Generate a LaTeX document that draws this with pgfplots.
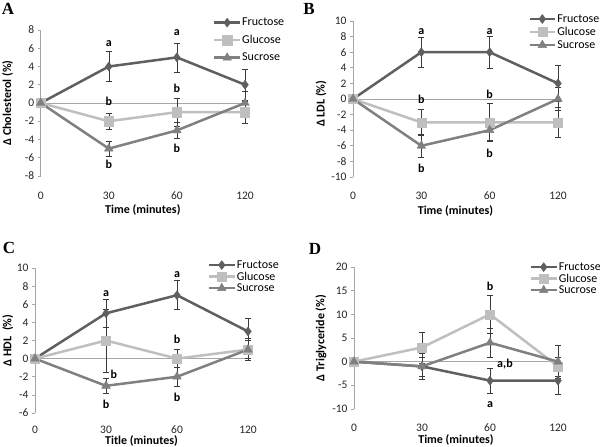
\documentclass[border=0pt]{standalone}
\usepackage{fontspec}
\setmainfont{Carlito}
\newfontfamily\serifb{Liberation Serif}
\usepackage{pgfplots}
\pgfplotsset{compat=1.18}
\definecolor{cF}{HTML}{5F5F5F}
\definecolor{cG}{HTML}{BFBFBF}
\definecolor{cS}{HTML}{808080}
\definecolor{cE}{HTML}{3A3A3A}
\definecolor{cAx}{HTML}{A6A6A6}
\tikzset{lab/.style={font=\bfseries\fontsize{12}{14}\selectfont}}
\pgfplotsset{
  panel/.style={
    scale only axis, anchor=south west, clip=false,
    xmin=0, xmax=3, xtick={0,1,2,3}, xticklabels={0,30,60,120},
    axis y line*=left, axis x line*=bottom,
    x axis line style={draw=none},
    y axis line style={cAx, line width=0.6pt, -},
    ytick style={cAx, line width=0.6pt}, xtick style={draw=none},
    tick align=outside, major tick length=3pt,
    tick label style={font=\fontsize{11.5}{13}\selectfont, text=black!85},
    /pgf/number format/assume math mode=true,
    label style={font=\bfseries\fontsize{12}{14}\selectfont},
    xticklabel style={anchor=center, inner sep=1pt},
    xlabel style={inner sep=0pt},
    legend style={draw=none, fill=none, font=\fontsize{12}{14}\selectfont,
      anchor=north west, legend cell align=left, inner sep=0pt,
      nodes={inner sep=1pt}},
    legend image code/.code={
      \draw[mark repeat=2,mark phase=2] plot coordinates {(0cm,0cm) (0.45cm,0cm) (0.9cm,0cm)};
    },
  },
  eb/.style={error bars/.cd, y dir=both, y explicit,
    error bar style={cE, line width=0.5pt},
    error mark options={cE, mark size=3pt, line width=0.5pt, rotate=90}},
  fru/.style={cF, line width=2.5pt, mark=diamond*, mark size=4.5pt, mark options={fill=cF, line width=0.4pt}, eb},
  glu/.style={cG, line width=2.5pt, mark=square*, mark size=4.6pt, mark options={fill=cG, line width=0.4pt}, eb},
  suc/.style={cS, line width=2.5pt, mark=triangle*, mark size=5pt, mark options={fill=cS, line width=0.4pt}, eb},
  zl/.style={cAx, line width=0.6pt, forget plot, mark=none},
}
\begin{document}
\begin{tikzpicture}
\useasboundingbox (0,0) rectangle (600pt,447pt);
% ---------- A ----------
\begin{axis}[panel, at={(40.7pt,271pt)}, width=204.3pt, height=146pt,
  ymin=-8, ymax=8, ytick={-8,-6,...,8},
  xticklabel style={yshift=-17pt},
  xlabel={Time (minutes)}, ylabel={Δ Cholesterol (\%)},
  xlabel style={at={(axis description cs:0.5,-0.236)}, anchor=center},
  ylabel style={at={(axis description cs:-0.162,0.5)}, anchor=center},
  legend style={at={(0.843,1.09)}, row sep=6pt}]
\addplot[zl] coordinates {(0,0) (3,0)};
\addplot[fru] table[x=x,y=y,y error=e] {
x y e
0 0 0
1 4 1.65
2 5 1.6
3 2 1.7
};
\addplot[glu] table[x=x,y=y,y error=e] {
x y e
0 0 0
1 -2 0.9
2 -1 1.5
3 -1 1.2
};
\addplot[suc] table[x=x,y=y,y error=e] {
x y e
0 0 0
1 -5 0.8
2 -3 0.9
3 0 1.3
};
\legend{Fructose,Glucose,Sucrose}
\node[lab] at (axis cs:1,6.5) {a};
\node[lab] at (axis cs:2,7.7) {a};
\node[lab] at (axis cs:1,0.2) {b};
\node[lab] at (axis cs:2,1.6) {b};
\node[lab] at (axis cs:1,-6.7) {b};
\node[lab] at (axis cs:2,-5) {b};
\end{axis}
% ---------- B ----------
\begin{axis}[panel, at={(353pt,270pt)}, width=205pt, height=156pt,
  ymin=-10, ymax=10, ytick={-10,-8,...,10},
  xticklabel style={yshift=-16pt},
  xlabel={Time (minutes)}, ylabel={Δ LDL (\%)},
  xlabel style={at={(axis description cs:0.5,-0.215)}, anchor=center},
  ylabel style={at={(axis description cs:-0.156,0.47)}, anchor=center},
  legend style={at={(0.854,1.05)}, row sep=1.5pt}]
\addplot[zl] coordinates {(0,0) (3,0)};
\addplot[fru] table[x=x,y=y,y error=e] {
x y e
0 0 0
1 6 1.9
2 6 2
3 2 2.3
};
\addplot[glu] table[x=x,y=y,y error=e] {
x y e
0 0 0
1 -3 1.7
2 -3 2.4
3 -3 1.9
};
\addplot[suc] table[x=x,y=y,y error=e] {
x y e
0 0 0
1 -6 1.5
2 -4 1.3
3 0 1.5
};
\legend{Fructose,Glucose,Sucrose}
\node[lab] at (axis cs:1,8.7) {a};
\node[lab] at (axis cs:2,8.7) {a};
\node[lab] at (axis cs:1,-0.1) {b};
\node[lab] at (axis cs:2,0.6) {b};
\node[lab] at (axis cs:1,-8.9) {b};
\node[lab] at (axis cs:2,-7) {b};
\end{axis}
% ---------- C ----------
\begin{axis}[panel, at={(35pt,34pt)}, width=213pt, height=145pt,
  ymin=-6, ymax=10, ytick={-6,-4,...,10},
  xticklabel style={yshift=-14pt},
  xlabel={Title (minutes)}, ylabel={Δ HDL\ \ (\%)},
  xlabel style={at={(axis description cs:0.5,-0.195)}, anchor=center},
  ylabel style={at={(axis description cs:-0.127,0.5)}, anchor=center},
  legend style={at={(0.81,1.06)}, row sep=0pt}]
\addplot[zl] coordinates {(0,0) (3,0)};
\addplot[fru] table[x=x,y=y,y error=e] {
x y e
0 0 0
1 5 1.5
2 7 1.6
3 3 1.5
};
\addplot[glu] table[x=x,y=y,y error=e] {
x y e
0 0 0
1 2 3.5
2 0 1.0
3 1 1.2
};
\addplot[suc] table[x=x,y=y,y error=e] {
x y e
0 0 0
1 -3 0.8
2 -2 1.1
3 1 1.0
};
\legend{Fructose,Glucose,Sucrose}
\node[lab] at (axis cs:1,7.2) {a};
\node[lab] at (axis cs:2,9.3) {a};
\node[lab] at (axis cs:2,2.1) {b};
\node[lab] at (axis cs:1.11,-1.7) {b};
\node[lab] at (axis cs:1,-5) {b};
\node[lab] at (axis cs:2,-4.3) {b};
\end{axis}
% ---------- D ----------
\begin{axis}[panel, at={(354pt,38pt)}, width=204pt, height=142pt,
  ymin=-10, ymax=20, ytick={-10,-5,...,20},
  xticklabel style={yshift=-16pt},
  xlabel={Time (minutes)}, ylabel={Δ Triglyceride (\%)},
  xlabel style={at={(axis description cs:0.5,-0.215)}, anchor=center},
  ylabel style={at={(axis description cs:-0.162,0.5)}, anchor=center},
  legend style={at={(0.86,1.04)}, row sep=0pt}]
\addplot[zl] coordinates {(0,0) (3,0)};
\addplot[fru] table[x=x,y=y,y error=e] {
x y e
0 0 0
1 -1 2.8
2 -4 2.7
3 -4 2.9
};
\addplot[glu] table[x=x,y=y,y error=e] {
x y e
0 0 0
1 3 3.3
2 10 4.1
3 -1 2
};
\addplot[suc] table[x=x,y=y,y error=e] {
x y e
0 0 0
1 -1 2
2 4 3.1
3 0 3.4
};
\legend{Fructose,Glucose,Sucrose}
\node[lab] at (axis cs:2,15.9) {b};
\node[lab] at (axis cs:2.22,-0.5) {a,b};
\node[lab] at (axis cs:2,-9.1) {a};
\end{axis}
% panel letters
\node[font=\serifb\bfseries\fontsize{17}{18}\selectfont] at (8pt,438pt) {A};
\node[font=\serifb\bfseries\fontsize{17}{18}\selectfont] at (309pt,438pt) {B};
\node[font=\serifb\bfseries\fontsize{17}{18}\selectfont] at (9pt,199pt) {C};
\node[font=\serifb\bfseries\fontsize{17}{18}\selectfont] at (315pt,198pt) {D};
\end{tikzpicture}
\end{document}
